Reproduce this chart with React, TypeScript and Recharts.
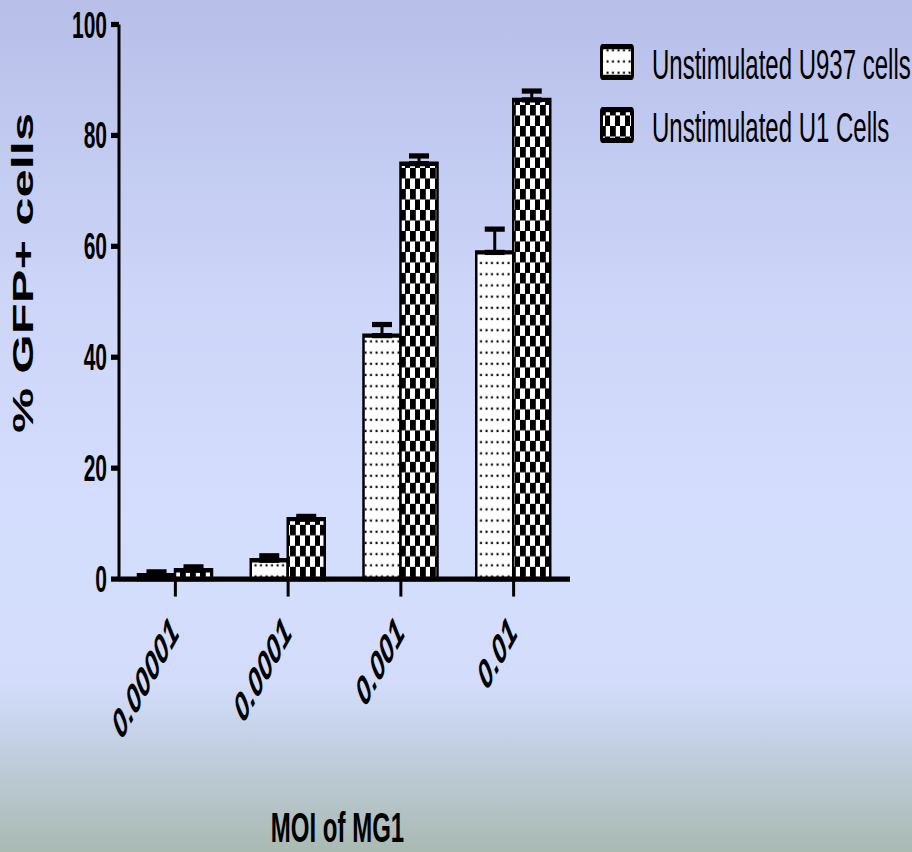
import { BarChart, Bar, XAxis, YAxis, ErrorBar, Label } from "recharts";

const categories = ["0.00001", "0.0001", "0.001", "0.01"];
const u937Values = [0.7, 3.4, 43.9, 58.9];
const u937Errors = [0.6, 0.8, 2.0, 4.2];
const u1Values = [1.6, 10.8, 74.9, 86.4];
const u1Errors = [0.6, 0.5, 1.4, 1.6];
const yTicks = [0, 20, 40, 60, 80, 100];
const seriesNames = ["Unstimulated U937 cells", "Unstimulated U1 Cells"];

// only the upper half of each error bar is drawn
const data = categories.map((moi, i) => ({
  moi,
  u937: u937Values[i],
  u937Err: [0, u937Errors[i]],
  u1: u1Values[i],
  u1Err: [0, u1Errors[i]],
}));

const FONT = "'Liberation Sans', Arial, sans-serif";
const W = 912;
const H = 852;
const INNER_H = 487;
// the original figure was stretched vertically, so draw flat and stretch
const STRETCH = H / INNER_H;

function Patterns({ prefix }: { prefix: string }) {
  return (
    <defs>
      <pattern id={`${prefix}dots`} patternUnits="userSpaceOnUse" width={5.5} height={6.4}>
        <rect width={5.5} height={6.4} fill="#fff" />
        <rect x={1.5} y={2.5} width={2} height={1.3} fill="#000" />
      </pattern>
      <pattern id={`${prefix}checks`} patternUnits="userSpaceOnUse" width={10} height={12}>
        <rect width={10} height={12} fill="#fff" />
        <rect x={0} y={0} width={5.8} height={6} fill="#000" />
        <rect x={5} y={6} width={5.8} height={6} fill="#000" />
      </pattern>
    </defs>
  );
}

function MoiTick({ x, y, payload }: any) {
  return (
    <g transform={`translate(${x + 5},${y + 19.5})`}>
      <text
        transform="rotate(-46)"
        textAnchor="end"
        fontSize={23.5}
        fontWeight="bold"
        fontStyle="italic"
        fontFamily={FONT}
        fill="#000"
      >
        {payload.value}
      </text>
    </g>
  );
}

function Legend() {
  const fills = ["url(#legdots)", "url(#legchecks)"];
  const rows = [25.7, 61.7];
  return (
    <svg
      width={W}
      height={INNER_H}
      style={{ position: "absolute", left: 0, top: 0, pointerEvents: "none" }}
    >
      <Patterns prefix="leg" />
      {seriesNames.map((name, i) => (
        <g key={name}>
          <rect
            x={601.5}
            y={rows[i] + 1}
            width={31}
            height={17.5}
            fill={fills[i]}
            stroke="#000"
            strokeWidth={3}
            rx={1}
          />
          <text x={652} y={rows[i] + 19.5} fontSize={24} fontFamily={FONT} fill="#000">
            {name}
          </text>
        </g>
      ))}
    </svg>
  );
}

export default function App() {
  return (
    <div
      style={{
        position: "absolute",
        left: 0,
        top: 0,
        width: W,
        height: H,
        overflow: "hidden",
        background:
          "linear-gradient(to bottom, #b7bfe9 0%, #cdd6f8 35%, #d4ddfd 60%, #d3ddfb 80%, #c6d2e8 86%, #a8bab2 100%)",
      }}
    >
      <div
        style={{
          position: "relative",
          width: W,
          height: INNER_H,
          transform: `scaleY(${STRETCH})`,
          transformOrigin: "0 0",
        }}
      >
        <BarChart
          width={W}
          height={INNER_H}
          data={data}
          margin={{ top: 14, right: 342, bottom: 0, left: 49 }}
          barGap={0}
        >
          <Patterns prefix="bar" />
          <XAxis
            dataKey="moi"
            interval={0}
            height={156}
            tickSize={10}
            tickMargin={2}
            tick={<MoiTick />}
            axisLine={{ stroke: "#000", strokeWidth: 3 }}
            tickLine={{ stroke: "#000", strokeWidth: 3 }}
          >
            <Label
              value="MOI of MG1"
              position="insideBottom"
              offset={5.5}
              dx={-7}
              fontSize={24}
              fontWeight="bold"
              fontFamily={FONT}
              fill="#000"
            />
          </XAxis>
          <YAxis
            domain={[0, 100]}
            ticks={yTicks}
            interval={0}
            width={70}
            tickSize={8}
            tickMargin={4}
            axisLine={{ stroke: "#000", strokeWidth: 3 }}
            tickLine={{ stroke: "#000", strokeWidth: 3 }}
            tick={{ fontSize: 21, fontWeight: "bold", fill: "#000", fontFamily: FONT }}
          >
            <Label
              content={() => (
                <text
                  x={33}
                  y={156}
                  transform="rotate(-90 33 156)"
                  textAnchor="middle"
                  fontSize={29}
                  fontWeight="bold"
                  fontFamily={FONT}
                  fill="#000"
                >
                  % GFP+ cells
                </text>
              )}
            />
          </YAxis>
          <Bar
            dataKey="u937"
            name={seriesNames[0]}
            fill="url(#bardots)"
            stroke="#000"
            strokeWidth={2.5}
            barSize={37}
            isAnimationActive={false}
          >
            <ErrorBar dataKey="u937Err" direction="y" width={10} stroke="#000" strokeWidth={3} />
          </Bar>
          <Bar
            dataKey="u1"
            name={seriesNames[1]}
            fill="url(#barchecks)"
            stroke="#000"
            strokeWidth={2.5}
            barSize={37}
            isAnimationActive={false}
          >
            <ErrorBar dataKey="u1Err" direction="y" width={10} stroke="#000" strokeWidth={3} />
          </Bar>
        </BarChart>
        <Legend />
      </div>
    </div>
  );
}
